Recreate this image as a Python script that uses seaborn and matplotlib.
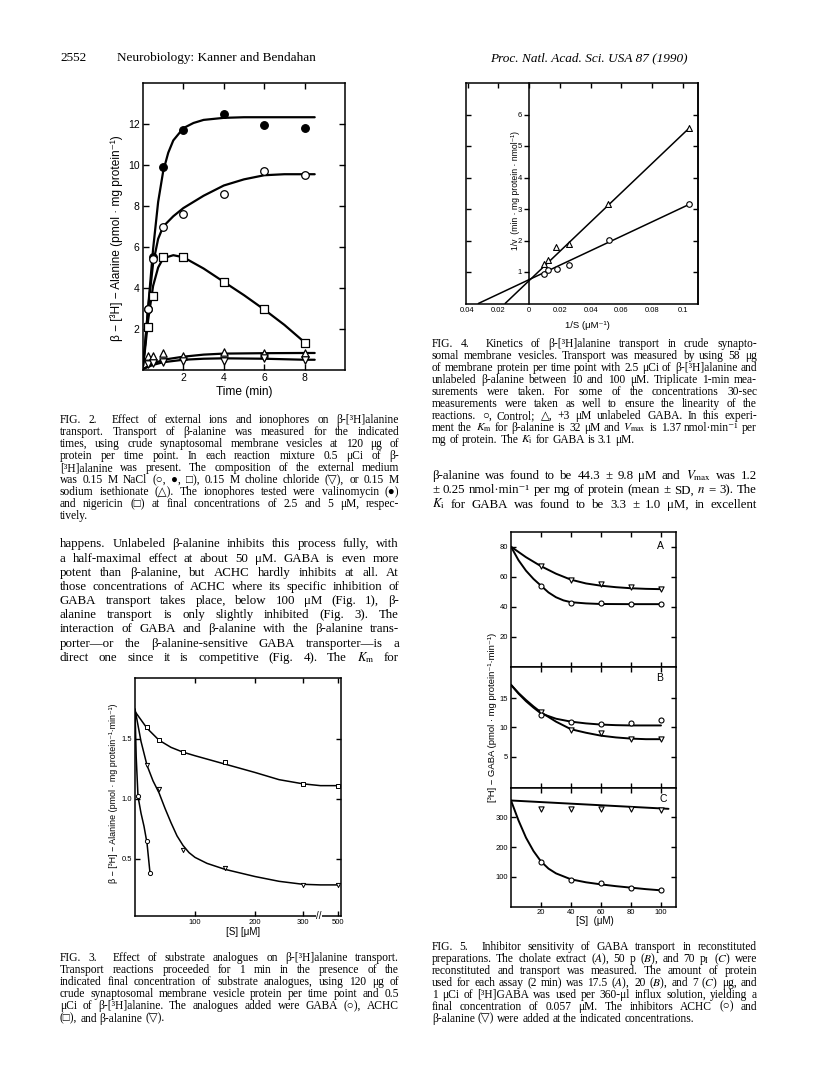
import matplotlib
matplotlib.use("Agg")
import matplotlib.pyplot as plt
import matplotlib.transforms as mtransforms
import numpy as np
import seaborn as sns

# ---------------- Fig. 2 data (time course) ----------------
f2_t = [0.25, 0.5, 1, 2, 4, 6, 8]
f2_valino = [3.0, 5.5, 9.9, 11.7, 12.5, 11.95, 11.8]
f2_nacl = [3.0, 5.4, 7.0, 7.6, 8.6, 9.7, 9.5]
f2_nigeri = [2.1, 3.6, 5.5, 5.5, 4.3, 3.0, 1.3]
f2_t_low = [0.23, 0.48, 0.97, 2, 4, 6, 8]
f2_iseth = [0.7, 0.7, 0.85, 0.68, 0.9, 0.83, 0.83]
f2_cholin = [0.3, 0.35, 0.4, 0.44, 0.44, 0.6, 0.5]
# fitted curves
f2_cv_valino_t = [0, 0.1, 0.25, 0.5, 0.75, 1, 1.25, 1.5, 2, 2.5, 3, 4, 5, 6, 7, 8, 8.5]
f2_cv_valino = [0.2, 1.2, 3.0, 5.9, 8.2, 9.7, 10.6, 11.2, 11.8, 12.05, 12.2, 12.3, 12.33, 12.33, 12.33, 12.33, 12.33]
f2_cv_nacl_t = [0, 0.1, 0.25, 0.5, 0.75, 1, 1.5, 2, 3, 4, 5, 6, 7, 8, 8.5]
f2_cv_nacl = [0.2, 1.2, 3.0, 5.2, 6.4, 7.0, 7.5, 7.9, 8.5, 9.0, 9.3, 9.5, 9.55, 9.55, 9.55]
f2_cv_nigeri_t = [0, 0.1, 0.25, 0.5, 0.75, 1, 1.5, 2, 3, 4, 5, 6, 7, 8]
f2_cv_nigeri = [0.2, 1.0, 2.4, 4.1, 5.0, 5.45, 5.6, 5.5, 4.95, 4.3, 3.65, 2.95, 2.2, 1.35]
f2_cv_low_t = [0, 0.5, 1, 2, 3, 4, 6, 8, 8.5]
f2_cv_iseth = [0.05, 0.3, 0.5, 0.65, 0.75, 0.8, 0.82, 0.83, 0.83]
f2_cv_cholin = [0.05, 0.25, 0.38, 0.5, 0.55, 0.57, 0.55, 0.5, 0.5]
f2_xticks = [2, 4, 6, 8]
f2_yticks = [2, 4, 6, 8, 10, 12]

# ---------------- Fig. 4 data (double reciprocal) ----------------
f4_s_ctrl = [0.0095, 0.0125, 0.018, 0.026, 0.052, 0.104]
f4_v_ctrl = [0.95, 1.05, 1.1, 1.22, 2.02, 3.17]
f4_s_gaba = [0.0095, 0.0125, 0.0175, 0.026, 0.051, 0.104]
f4_v_gaba = [1.25, 1.38, 1.78, 1.9, 3.15, 5.57]
f4_fit_ctrl_s = [-0.033, 0.105]
f4_fit_ctrl_v = [0.0, 3.17]
f4_fit_gaba_s = [-0.0156, 0.104]
f4_fit_gaba_v = [0.0, 5.57]
f4_xticks = [-0.04, -0.02, 0, 0.02, 0.04, 0.06, 0.08, 0.1]
f4_xticklabels = ["0.04", "0.02", "0", "0.02", "0.04", "0.06", "0.08", "0.1"]
f4_yticks = [1, 2, 3, 4, 5, 6]

# ---------------- Fig. 3 data (substrate analogues) ----------------
f3_gaba_s = [5, 20, 25]
f3_gaba_v = [1.02, 0.65, 0.38]
f3_achc_s = [20, 40, 80, 150, 300, 500]
f3_achc_v = [1.6, 1.49, 1.39, 1.31, 1.12, 1.11]
f3_bala_s = [20, 40, 80, 150, 300, 500]
f3_bala_v = [1.28, 1.08, 0.57, 0.42, 0.28, 0.28]
f3_cv_gaba_s = [0, 2, 5, 10, 15, 20, 25]
f3_cv_gaba = [1.75, 1.35, 1.02, 0.88, 0.77, 0.63, 0.38]
f3_cv_bala_s = [0, 10, 20, 30, 40, 50, 60, 70, 80, 90, 100, 120, 150, 200, 250, 300, 400, 500]
f3_cv_bala = [1.75, 1.48, 1.28, 1.15, 1.05, 0.92, 0.8, 0.69, 0.61, 0.55, 0.51, 0.46, 0.41, 0.35, 0.31, 0.285, 0.28, 0.28]
f3_cv_achc_s = [0, 10, 20, 40, 60, 80, 100, 150, 200, 250, 300, 400, 500]
f3_cv_achc = [1.73, 1.66, 1.59, 1.49, 1.43, 1.39, 1.36, 1.29, 1.22, 1.16, 1.125, 1.11, 1.11]
f3_xticks = [100, 200, 300, 500]
f3_yticks = [0.5, 1.0, 1.5]

# ---------------- Fig. 5 data (reconstituted, panels A-C) ----------------
f5_s = [20, 40, 60, 80, 100]
f5A_bala = [67, 57.5, 55, 53, 51.5]
f5A_achc = [54, 42.5, 42.5, 41.5, 41.5]
f5B_bala = [12.7, 9.6, 9.0, 8.05, 8.0]
f5B_achc = [12.2, 11.0, 10.6, 10.7, 11.3]
f5C_bala = [330, 330, 328, 330, 325]
f5C_achc = [150, 90, 81, 64, 56]
f5A_cv_bala_s = [0, 10, 20, 30, 40, 50, 60, 70, 80, 90, 100]
f5A_cv_bala = [80, 73, 67, 62, 58, 55.5, 54, 53, 52.3, 51.9, 51.7]
f5A_cv_achc_s = [0, 5, 10, 15, 20, 25, 30, 35, 40, 50, 60, 80, 100]
f5A_cv_achc = [80, 71, 64, 58.5, 54, 49.5, 46.3, 44.2, 43, 42.2, 41.8, 41.7, 41.7]
f5B_cv_s = [0, 5, 10, 15, 20, 30, 40, 50, 60, 70, 80, 90, 100]
f5B_cv_achc = [17.3, 15.8, 14.5, 13.4, 12.4, 11.5, 11.0, 10.7, 10.5, 10.4, 10.35, 10.35, 10.35]
f5B_cv_bala = [17.3, 15.9, 14.7, 13.6, 12.6, 11.0, 9.7, 9.1, 8.6, 8.3, 8.1, 8.0, 8.0]
f5C_cv_bala_s = [0, 105]
f5C_cv_bala = [357, 329]
f5C_cv_achc_s = [0, 5, 10, 15, 20, 25, 30, 40, 50, 60, 70, 80, 90, 100]
f5C_cv_achc = [357, 290, 232, 187, 152, 128, 112, 92, 82, 75, 69, 64, 59, 55]
f5_xticks = [20, 40, 60, 80, 100]
f5A_yticks = [20, 40, 60, 80]
f5B_yticks = [5, 10, 15]
f5C_yticks = [100, 200, 300]

# ---------------- page text ----------------
header_left_num = "2552"
header_left = "Neurobiology: Kanner and Bendahan"
header_right = "Proc. Natl. Acad. Sci. USA 87 (1990)"

cap2 = [
    "FIG. 2.  Effect of external ions and ionophores on β-[³H]alanine",
    "transport. Transport of β-alanine was measured for the indicated",
    "times, using crude synaptosomal membrane vesicles at 120 μg of",
    "protein per time point. In each reaction mixture 0.5 μCi of β-",
    "[³H]alanine was present. The composition of the external medium",
    "was 0.15 M NaCl (○, ●, □), 0.15 M choline chloride (▽), or 0.15 M",
    "sodium isethionate (△). The ionophores tested were valinomycin (●)",
    "and nigericin (□) at final concentrations of 2.5 and 5 μM, respec-",
    "tively.",
]
body_left = [
    "happens. Unlabeled β-alanine inhibits this process fully, with",
    "a half-maximal effect at about 50 μM. GABA is even more",
    "potent than β-alanine, but ACHC hardly inhibits at all. At",
    "those concentrations of ACHC where its specific inhibition of",
    "GABA transport takes place, below 100 μM (Fig. 1), β-",
    "alanine transport is only slightly inhibited (Fig. 3). The",
    "interaction of GABA and β-alanine with the β-alanine trans-",
    "porter—or the β-alanine-sensitive GABA transporter—is a",
    "direct one since it is competitive (Fig. 4). The $K_\\mathrm{m}$ for",
]
cap3 = [
    "FIG. 3.  Effect of substrate analogues on β-[³H]alanine transport.",
    "Transport reactions proceeded for 1 min in the presence of the",
    "indicated final concentration of substrate analogues, using 120 μg of",
    "crude synaptosomal membrane vesicle protein per time point and 0.5",
    "μCi of β-[³H]alanine. The analogues added were GABA (○), ACHC",
    "(□), and β-alanine (▽).",
]
cap4 = [
    "FIG. 4.  Kinetics of β-[³H]alanine transport in crude synapto-",
    "somal membrane vesicles. Transport was measured by using 58 μg",
    "of membrane protein per time point with 2.5 μCi of β-[³H]alanine and",
    "unlabeled β-alanine between 10 and 100 μM. Triplicate 1-min mea-",
    "surements were taken. For some of the concentrations 30-sec",
    "measurements were taken as well to ensure the linearity of the",
    "reactions. ○, Control; △, +3 μM unlabeled GABA. In this experi-",
    "ment the $K_\\mathrm{m}$ for β-alanine is 32 μM and $V_\\mathrm{max}$ is 1.37 nmol·min⁻¹ per",
    "mg of protein. The $K_\\mathrm{i}$ for GABA is 3.1 μM.",
]
body_right = [
    "β-alanine was found to be 44.3 ± 9.8 μM and $V_\\mathrm{max}$ was 1.2",
    "± 0.25 nmol·min⁻¹ per mg of protein (mean ± SD, $n$ = 3). The",
    "$K_\\mathrm{i}$ for GABA was found to be 3.3 ± 1.0 μM, in excellent",
]
cap5 = [
    "FIG. 5.  Inhibitor sensitivity of GABA transport in reconstituted",
    "preparations. The cholate extract ($A$), 50 p ($B$), and 70 p$_\\mathrm{I}$ ($C$) were",
    "reconstituted and transport was measured. The amount of protein",
    "used for each assay (2 min) was 17.5 ($A$), 20 ($B$), and 7 ($C$) μg, and",
    "1 μCi of [³H]GABA was used per 360-μl influx solution, yielding a",
    "final concentration of 0.057 μM. The inhibitors ACHC (○) and",
    "β-alanine (▽) were added at the indicated concentrations.",
]

# ---------------- style ----------------
sns.set_theme(style="ticks")
SANS = ["Liberation Sans", "DejaVu Sans"]
SERIF = ["Liberation Serif", "DejaVu Serif", "DejaVu Sans"]
plt.rcParams["font.family"] = SANS
plt.rcParams.update({
    "mathtext.fontset": "stix",
    "axes.edgecolor": "black", "axes.linewidth": 1.1,
    "xtick.color": "black", "ytick.color": "black",
    "text.color": "black", "axes.labelcolor": "black",
    "xtick.major.width": 1.0, "ytick.major.width": 1.0,
    "axes.facecolor": "white", "figure.facecolor": "white",
})

W, H = 816, 1078
fig = plt.figure(figsize=(W / 100, H / 100), dpi=100)
R = fig.canvas.get_renderer()


def axbox(l, t, r, b):
    return fig.add_axes([l / W, 1 - b / H, (r - l) / W, (b - t) / H])


def ftext(xp, yp, s, **kw):
    return fig.text(xp / W, 1 - yp / H, s, **kw)


def curve(ax, x, y, lw):
    sns.lineplot(x=x, y=y, ax=ax, color="black", lw=lw, estimator=None, sort=False)


def pts(ax, x, y, marker, s, filled=False, lw=0.9):
    sns.scatterplot(x=x, y=y, ax=ax, marker=marker, s=s,
                    facecolor="black" if filled else "white",
                    edgecolor="black", linewidth=lw, zorder=4, clip_on=False)


def para(lines, x0, x1, yc0, dy, size, justify_last=False, style="normal"):
    colw = x1 - x0
    rows = []
    for line in lines:
        ws = line.split(" ")
        rows.append([fig.text(0, 0, w, fontsize=size, family=SERIF, style=style,
                              va="baseline", ha="left") for w in ws])

    def widths(ts):
        return [t.get_window_extent(R).width if t.get_text() else 0.0 for t in ts]

    sp = 0.25 * size * 100 / 72
    nat = []
    for i, ts in enumerate(rows):
        if i < len(rows) - 1 or justify_last:
            nat.append(sum(widths(ts)) + sp * (len(ts) - 1))
    scale = min(1.0, colw / max(nat)) if nat else 1.0
    if scale < 1.0:
        for ts in rows:
            for t in ts:
                t.set_fontsize(size * scale)
        sp *= scale
    em = size * scale * 100 / 72
    for i, ts in enumerate(rows):
        wl = widths(ts)
        n = len(ts)
        if (i < len(rows) - 1 or justify_last) and n > 1:
            gap = (colw - sum(wl)) / (n - 1)
        else:
            gap = sp
        x = x0
        base = yc0 + i * dy + 0.32 * em
        for t, w in zip(ts, wl):
            t.set_position((x / W, 1 - base / H))
            x += w + gap


# ================= Fig. 2 =================
ax2 = axbox(143, 83, 345, 370)
curve(ax2, f2_cv_valino_t, f2_cv_valino, 1.6)
curve(ax2, f2_cv_nacl_t, f2_cv_nacl, 1.6)
curve(ax2, f2_cv_nigeri_t, f2_cv_nigeri, 1.6)
curve(ax2, f2_cv_low_t, f2_cv_iseth, 1.6)
curve(ax2, f2_cv_low_t, f2_cv_cholin, 1.6)
pts(ax2, f2_t, f2_valino, "o", 30, filled=True)
pts(ax2, f2_t, f2_nacl, "o", 30)
pts(ax2, f2_t, f2_nigeri, "s", 28)
pts(ax2, f2_t_low, f2_iseth, "^", 28)
pts(ax2, f2_t_low, f2_cholin, "v", 28)
ax2.set_xlim(0, 10)
ax2.set_ylim(0, 14)
ax2.set_xticks(f2_xticks)
ax2.set_yticks(f2_yticks)
ax2.tick_params(direction="in", top=True, right=True, bottom=True, left=True,
                length=4.5, labelsize=7.5, pad=2.5)
ax2.set_xlabel("")
ax2.set_ylabel("")
ftext(117, 238, "β − [³H] − Alanine (pmol · mg protein⁻¹)", rotation=90,
      ha="center", va="center", fontsize=8.6)
ftext(244, 392, "Time (min)", ha="center", va="center", fontsize=8.6)

# ================= Fig. 4 =================
ax4 = axbox(466, 83, 698, 303.5)
curve(ax4, f4_fit_ctrl_s, f4_fit_ctrl_v, 1.1)
curve(ax4, f4_fit_gaba_s, f4_fit_gaba_v, 1.1)
pts(ax4, f4_s_ctrl, f4_v_ctrl, "o", 16, lw=0.8)
pts(ax4, f4_s_gaba, f4_v_gaba, "^", 18, lw=0.8)
ax4.set_xlim(-0.041, 0.1097)
ax4.set_ylim(0, 7)
ax4.spines["left"].set_position(("data", 0))
ax4.set_xticks(f4_xticks, labels=f4_xticklabels)
ax4.set_yticks(f4_yticks)
ax4.tick_params(axis="y", direction="out", left=True, right=False, length=3.5,
                labelsize=5.5, pad=1.5)
ax4.tick_params(axis="x", direction="in", top=True, bottom=False, length=3.5,
                labelsize=5.5, pad=2.5)
ax4.set_xlabel("")
ax4.set_ylabel("")
lb4 = ax4.secondary_yaxis(0.0)
lb4.set_yticks(f4_yticks)
lb4.tick_params(axis="y", direction="in", left=True, right=False, labelleft=False,
                labelright=False, length=3.5)
rb4 = ax4.secondary_yaxis("right")
rb4.set_yticks(f4_yticks)
rb4.tick_params(axis="y", direction="in", right=True, left=False, labelleft=False,
                labelright=False, length=3.5)
ftext(515, 190, "1/v  (min · mg protein · nmol⁻¹)", rotation=90, ha="center",
      va="center", fontsize=6.2)
ftext(587, 325, "1/S (μM⁻¹)", ha="center", va="center", fontsize=6.8)

# ================= Fig. 3 =================
F3_DATA = [0, 200, 300, 600]
F3_DRAW = [0, 200, 280, 367]
ax3 = axbox(135, 678, 341, 916)
ax3.set_xscale("function", functions=(lambda x: np.interp(x, F3_DATA, F3_DRAW),
                                      lambda u: np.interp(u, F3_DRAW, F3_DATA)))
curve(ax3, f3_cv_gaba_s, f3_cv_gaba, 1.1)
curve(ax3, f3_cv_bala_s, f3_cv_bala, 1.1)
curve(ax3, f3_cv_achc_s, f3_cv_achc, 1.1)
pts(ax3, f3_gaba_s, f3_gaba_v, "o", 9, lw=0.7)
pts(ax3, f3_achc_s, f3_achc_v, "s", 8, lw=0.7)
pts(ax3, f3_bala_s, f3_bala_v, "v", 9, lw=0.7)
ax3.set_xlim(0, 518)
ax3.set_ylim(0.02, 2.01)
ax3.set_xticks(f3_xticks, labels=[str(v) for v in f3_xticks])
ax3.set_yticks(f3_yticks, labels=[f"{v:.1f}" for v in f3_yticks])
ax3.tick_params(direction="in", top=True, right=True, bottom=True, left=True,
                length=3.5, labelsize=5.5, pad=2)
ax3.set_xlabel("")
ax3.set_ylabel("")
brk = mtransforms.blended_transform_factory(ax3.transData, ax3.transAxes)
ax3.text(390, 0.0, "//", transform=brk, ha="center", va="center", fontsize=7,
         bbox=dict(facecolor="white", edgecolor="none", pad=0.3), clip_on=False)
ftext(113, 793, "β − [³H] − Alanine (pmol · mg protein⁻¹·min⁻¹)", rotation=90,
      ha="center", va="center", fontsize=6.4)
ftext(243, 932, "[S] [μM]", ha="center", va="center", fontsize=7)

# ================= Fig. 5 =================
axA = axbox(511, 531.7, 676, 666.7)
axB = axbox(511, 666.7, 676, 787.7)
axC = axbox(511, 787.7, 676, 906.7)
curve(axA, f5A_cv_bala_s, f5A_cv_bala, 1.4)
curve(axA, f5A_cv_achc_s, f5A_cv_achc, 1.4)
pts(axA, f5_s, f5A_bala, "v", 14, lw=0.8)
pts(axA, f5_s, f5A_achc, "o", 13, lw=0.8)
curve(axB, f5B_cv_s, f5B_cv_achc, 1.4)
curve(axB, f5B_cv_s, f5B_cv_bala, 1.4)
pts(axB, f5_s, f5B_bala, "v", 14, lw=0.8)
pts(axB, f5_s, f5B_achc, "o", 13, lw=0.8)
curve(axC, f5C_cv_bala_s, f5C_cv_bala, 1.4)
curve(axC, f5C_cv_achc_s, f5C_cv_achc, 1.4)
pts(axC, f5_s, f5C_bala, "v", 14, lw=0.8)
pts(axC, f5_s, f5C_achc, "o", 13, lw=0.8)
for ax, lim, yt in ((axA, (0, 90), f5A_yticks), (axB, (-0.3, 20.4), f5B_yticks),
                    (axC, (0, 400), f5C_yticks)):
    ax.set_xlim(0, 110)
    ax.set_ylim(*lim)
    ax.set_xticks(f5_xticks)
    ax.set_yticks(yt)
    ax.tick_params(direction="in", top=True, right=True, bottom=True, left=True,
                   length=3.5, labelsize=5.5, pad=2)
    ax.set_xlabel("")
    ax.set_ylabel("")
axA.tick_params(labelbottom=False)
axB.tick_params(labelbottom=False)
ftext(660, 546, "A", ha="center", va="center", fontsize=7.5)
ftext(660, 678, "B", ha="center", va="center", fontsize=7.5)
ftext(663, 799, "C", ha="center", va="center", fontsize=7.5)
ftext(493, 717, "[³H] − GABA (pmol · mg protein⁻¹·min⁻¹)", rotation=90,
      ha="center", va="center", fontsize=6.8)
ftext(595, 921, "[S]  (μM)", ha="center", va="center", fontsize=7)

# ================= page text =================
ftext(60, 61, header_left_num, family=SERIF, fontsize=9.5, va="baseline")
ftext(117, 61, header_left, family=SERIF, fontsize=9.5, va="baseline")
ftext(490, 61, header_right, family=SERIF, fontsize=9.5, style="italic", va="baseline")

para(cap2, 60, 399, 419, 12.1, 8.3)
para(body_left, 60, 399, 543.3, 14.17, 9.3, justify_last=True)
para(cap3, 60, 399, 957, 12.2, 8.3)
para(cap4, 432, 757, 343.3, 12.0, 8.3)
para(body_right, 432, 757, 475, 14.2, 9.3, justify_last=True)
para(cap5, 432, 757, 946.6, 11.9, 8.3)

fig.savefig("out.png", dpi=100, facecolor="white")
